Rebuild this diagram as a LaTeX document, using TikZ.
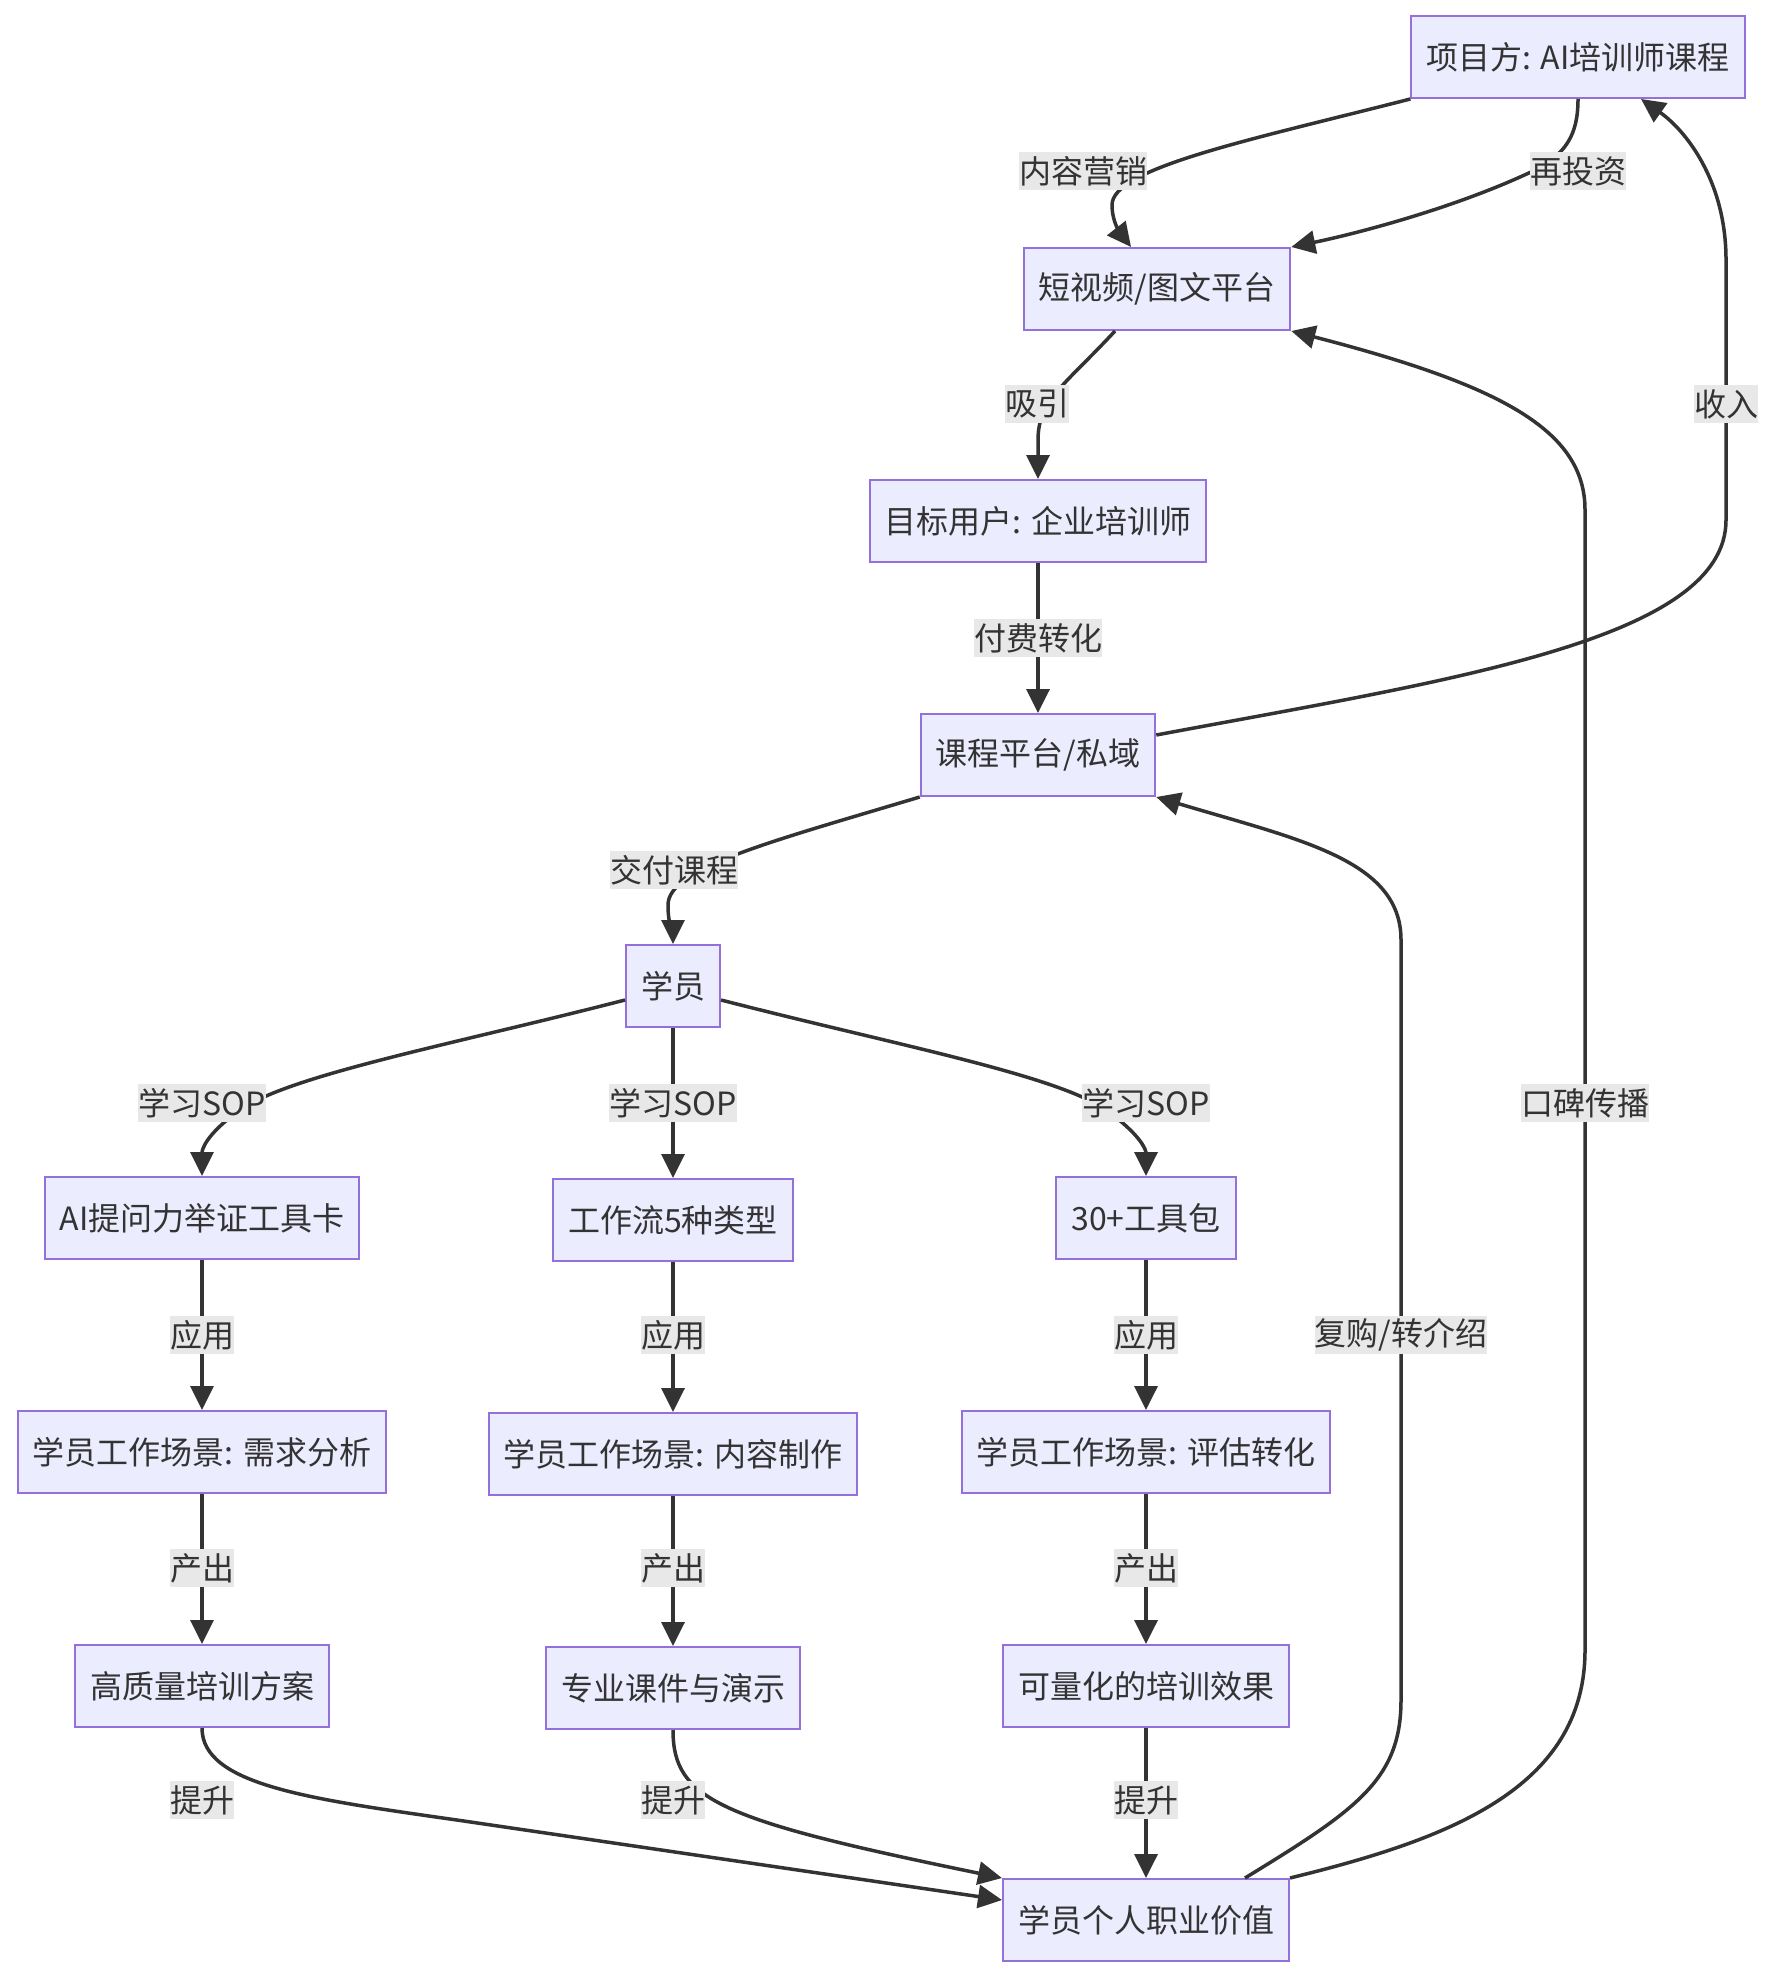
\documentclass[tikz,border=0pt]{standalone}
\usepackage{fontspec}
\setmainfont{Noto Sans CJK SC}
\usetikzlibrary{arrows.meta, positioning}

\definecolor{boxfill}{HTML}{ECECFF}
\definecolor{boxline}{HTML}{9370DB}
\definecolor{ink}{HTML}{333333}
\definecolor{lblbg}{HTML}{E8E8E8}

\begin{document}
\begin{tikzpicture}[
    x=0.5pt, y=-0.5pt,
    node distance=75pt,
    box/.style={draw=boxline, fill=boxfill, line width=1pt, rectangle, minimum height=41pt, inner xsep=7.5pt, inner ysep=0pt, font=\fontsize{16pt}{19pt}\selectfont, text=ink},
    lbl/.style={fill=lblbg, rectangle, minimum height=19pt, inner xsep=0pt, inner ysep=0pt, font=\fontsize{16pt}{19pt}\selectfont, text=ink},
    arrow/.style={-{Triangle[length=12pt,width=11.5pt]}, line width=1.75pt, draw=ink}
]
\useasboundingbox (0,0) rectangle (1772,1974);

% Upper flow
\node[box] (top) at (1578,57) {项目方: AI培训师课程};
\node[box] (video) at (1157,289) {短视频/图文平台};
\node[box] (target) at (1038,521) {目标用户: 企业培训师};
\node[box, below=of target] (course) {课程平台/私域};
\node[box] (stu) at (673,986) {学员};

% Three columns
\node[box] (card) at (202,1218) {AI提问力举证工具卡};
\node[box, below=of stu] (flow) {工作流5种类型};
\node[box] (kit) at (1146,1218) {30+工具包};

\node[box, below=of card] (scA) {学员工作场景: 需求分析};
\node[box, below=of flow] (scB) {学员工作场景: 内容制作};
\node[box, below=of kit] (scC) {学员工作场景: 评估转化};

\node[box, below=of scA] (outA) {高质量培训方案};
\node[box, below=of scB] (outB) {专业课件与演示};
\node[box, below=of scC] (outC) {可量化的培训效果};

\node[box, below=of outC] (value) {学员个人职业价值};

% Arrows
\draw[arrow] (top.south west) .. controls (1250,140) and (1112,168) .. (1112,205) .. controls (1112,225) and (1124,238) .. ([xshift=-13pt]video.north);
\draw[arrow] (top.south) .. controls (1578,135) and (1566,155) .. (1531,172) .. controls (1450,210) and (1350,235) .. (video.north east);
\draw[arrow] ([xshift=-21pt]video.south) .. controls (1065,385) and (1038,400) .. (1038,440) -- (target.north);
\draw[arrow] (target) -- (course);
\draw[arrow] ([yshift=10pt]course.east) .. controls (1450,680) and (1726,640) .. (1726,520) -- (1726,260) .. controls (1726,180) and (1685,130) .. ([xshift=31.5pt]top.south);
\draw[arrow] (course.south west) .. controls (770,842) and (668,868) .. (668,905) .. controls (668,925) and (673,935) .. (stu.north);

\draw[arrow] ([yshift=-7pt]stu.west) .. controls (450,1045) and (290,1075) .. (240,1110) .. controls (205,1135) and (202,1150) .. (card.north);
\draw[arrow] (stu) -- (flow);
\draw[arrow] ([yshift=-7pt]stu.east) .. controls (896,1045) and (1056,1075) .. (1106,1110) .. controls (1141,1135) and (1146,1150) .. (kit.north);

\draw[arrow] (card) -- (scA);
\draw[arrow] (flow) -- (scB);
\draw[arrow] (kit) -- (scC);
\draw[arrow] (scA) -- (outA);
\draw[arrow] (scB) -- (outB);
\draw[arrow] (scC) -- (outC);

\draw[arrow] (outA.south) .. controls (202,1785) and (310,1799) .. (457,1820) -- ([yshift=10pt]value.west);
\draw[arrow] (outB.south) .. controls (673,1800) and (720,1820) .. (value.north west);
\draw[arrow] (outC) -- (value);

\draw[arrow] ([xshift=49.5pt]value.north) .. controls (1356,1810) and (1401,1780) .. (1401,1700) -- (1401,940) .. controls (1401,860) and (1300,840) .. (course.south east);
\draw[arrow] (value.north east) .. controls (1445,1840) and (1585,1790) .. (1585,1650) -- (1585,510) .. controls (1585,430) and (1500,385) .. (video.south east);

% Edge labels
\node[lbl] (lMarket) at (1083,171) {内容营销};
\node[lbl] (lReinvest) at (1578,171) {再投资};
\node[lbl] (lAttract) at (1037,404) {吸引};
\node[lbl] (lIncome) at (1726,404) {收入};
\node[lbl] (lPay) at (1038,638) {付费转化};
\node[lbl] (lDeliver) at (674,870) {交付课程};
\node[lbl] (lLearnA) at (202,1103) {学习SOP};
\node[lbl] (lLearnB) at (673,1103) {学习SOP};
\node[lbl] (lLearnC) at (1146,1103) {学习SOP};
\node[lbl] (lWord) at (1585,1103) {口碑传播};
\node[lbl] (lUseA) at (202,1335) {应用};
\node[lbl] (lUseB) at (673,1335) {应用};
\node[lbl] (lUseC) at (1146,1335) {应用};
\node[lbl] (lRebuy) at (1401,1335) {复购/转介绍};
\node[lbl] (lMakeA) at (202,1568) {产出};
\node[lbl] (lMakeB) at (673,1568) {产出};
\node[lbl] (lMakeC) at (1146,1568) {产出};
\node[lbl] (lRaiseA) at (202,1800) {提升};
\node[lbl] (lRaiseB) at (673,1800) {提升};
\node[lbl] (lRaiseC) at (1146,1800) {提升};

\end{tikzpicture}
\end{document}
